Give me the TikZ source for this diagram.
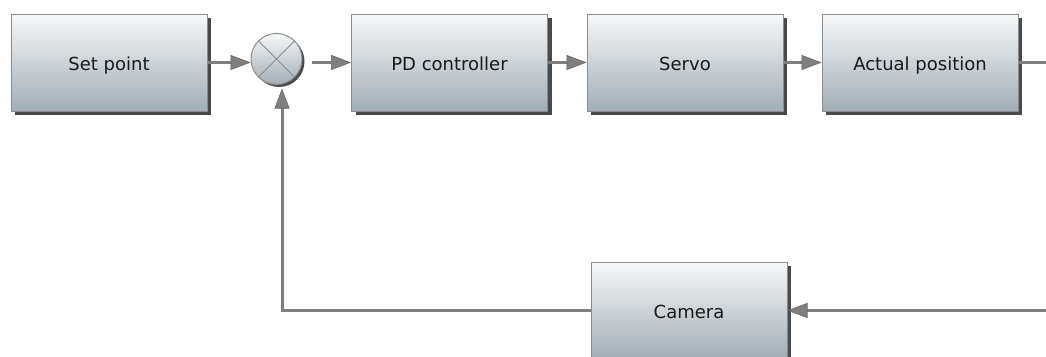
\documentclass[tikz,border=0pt]{standalone}
\usepackage{fontspec}
\setmainfont{DejaVu Sans}
\usetikzlibrary{arrows.meta,shadows,calc}
\definecolor{linegray}{HTML}{7F7F7F}
\definecolor{edgegray}{HTML}{8C8C8C}
\definecolor{boxtop}{HTML}{F6F8F9}
\definecolor{boxbot}{HTML}{A2ADB5}
\definecolor{shadowgray}{HTML}{4A4A4A}
\tikzset{
  block/.style={draw=edgegray, line width=1pt, top color=boxtop, bottom color=boxbot,
    minimum width=196pt, minimum height=97pt, inner sep=0pt,
    text height=16pt, text depth=1pt, text=black!90,
    font=\fontsize{18}{22}\selectfont,
    drop shadow={shadow xshift=4pt, shadow yshift=-4pt, fill=shadowgray, opacity=1}},
  summer/.style={circle, draw=edgegray, line width=1pt, top color=boxtop, bottom color=boxbot,
    minimum size=51pt, inner sep=0pt,
    drop shadow={shadow xshift=2.5pt, shadow yshift=-2.5pt, fill=shadowgray, opacity=1}},
  conn/.style={draw=linegray, line width=3pt,
    -{Triangle[length=20pt, width=15pt, fill=linegray, line width=0.6pt, color=linegray!80!black]}},
}
\begin{document}
\begin{tikzpicture}[x=1pt, y=-1pt]
  \useasboundingbox (0,0) rectangle (1046,356);
  \clip (0,0) rectangle (1046,356);

  % blocks
  \node[block] (setp)   at (109,62.5)   {Set point};
  \node[summer] (sum)   at (276.5,59)   {};
  \node[block] (pd)     at (449.5,62.5) {PD controller};
  \node[block] (servo)  at (685,62.5)   {Servo};
  \node[block] (actual) at (920,62.5)   {Actual position};
  \node[block] (camera) at (689,310.5)  {Camera};

  % cross inside the summing junction
  \draw[edgegray, line width=1pt] (sum.north west) -- (sum.south east)
                                   (sum.north east) -- (sum.south west);

  % forward path
  \draw[conn] (setp.east) -- (setp.east -| sum.west);
  \draw[conn, shorten <=9pt] (sum.east |- pd.west) -- (pd.west);
  \draw[conn] (pd.east) -- (servo.west);
  \draw[conn] (servo.east) -- (actual.west);

  % measurement loop through the camera
  \coordinate (turn) at (1080,62.5);
  \draw[conn] (actual.east) -- (turn) |- (camera.east);
  \draw[conn, shorten >=3.5pt] (camera.west) -| ([xshift=5.5pt]sum.south);
\end{tikzpicture}
\end{document}
